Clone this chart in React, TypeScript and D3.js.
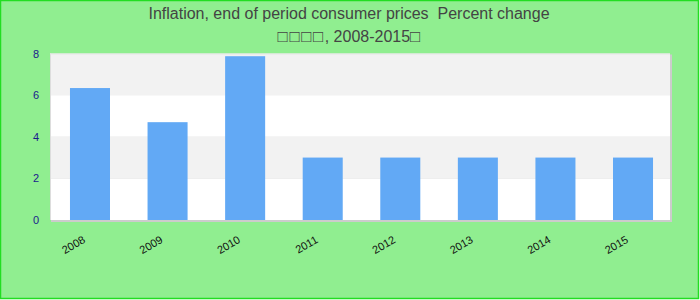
import React from "react";
import * as d3 from "d3";

const years = ["2008", "2009", "2010", "2011", "2012", "2013", "2014", "2015"];
const inflation = [6.34, 4.7, 7.87, 3.0, 3.0, 3.0, 3.0, 3.0];
const yTicks = [0, 2, 4, 6, 8];
const titleLine1 = "Inflation, end of period consumer prices  Percent change";
const titleLine2a = "\u25A1\u25A1\u25A1\u25A1";
const titleLine2b = ", 2008-2015";
const titleLine2c = "\u25A1";

const W = 700;
const H = 300;
const left = 50;
const right = 670;
const top = 53.5;
const bottom = 220;

export default function App() {
  React.useEffect(() => {
    document.body.style.margin = "0";
  }, []);
  const x = d3.scaleBand<string>().domain(years).range([51.2, 671.8]).paddingInner(0.484).paddingOuter(0.242);
  const y = d3.scaleLinear().domain([0, 8]).range([bottom, top]);
  const bands = d3.range(0, 8, 2);
  const font = "'Liberation Sans', Arial, sans-serif";
  return (
    <svg width={W} height={H} style={{ display: "block" }} fontFamily={font}>
      <rect x={0.5} y={0.5} width={W - 2} height={H - 2} fill="#90ee90" stroke="#22dd22" strokeWidth={1.5} />
      <text x={349} y={19} textAnchor="middle" fontSize={16} fill="#444" style={{ whiteSpace: "pre" }}>{titleLine1}</text>
      <text x={349} y={42} textAnchor="middle" fontSize={16} fill="#444" style={{ whiteSpace: "pre" }}>
        <tspan fontSize={17} letterSpacing={1.5}>{titleLine2a}</tspan>
        <tspan>{titleLine2b}</tspan>
        <tspan fontSize={17}>{titleLine2c}</tspan>
      </text>
      {/* shadow */}
      <rect x={left + 1} y={top + 1} width={right - left + 1} height={bottom - top + 1} fill="#cccccc" />
      {bands.map((b, i) => (
        <rect key={b} x={left} y={y(b + 2)} width={right - left} height={y(b) - y(b + 2)} fill={i % 2 === 0 ? "#ffffff" : "#f2f2f2"} />
      ))}
      <line x1={left + 0.5} x2={left + 0.5} y1={top} y2={bottom} stroke="#dddddd" />
      <line x1={left} x2={right} y1={top + 0.5} y2={top + 0.5} stroke="#e6e6e6" />
      {years.map((yr, i) => (
        <rect key={yr} x={x(yr)} y={y(inflation[i])} width={x.bandwidth()} height={y(0) - y(inflation[i])} fill="#62a9f5" />
      ))}
      {yTicks.map((t) => (
        <text key={t} x={39} y={y(t) + 4} textAnchor="end" fontSize={11} fill="#1a1a8c">{t}</text>
      ))}
      {years.map((yr) => {
        const cx = (x(yr) as number) + x.bandwidth() / 2;
        return (
          <text key={yr} transform={`translate(${cx - 4},${242}) rotate(-30)`} textAnchor="end" fontSize={11} fill="#111">{yr}</text>
        );
      })}
    </svg>
  );
}
